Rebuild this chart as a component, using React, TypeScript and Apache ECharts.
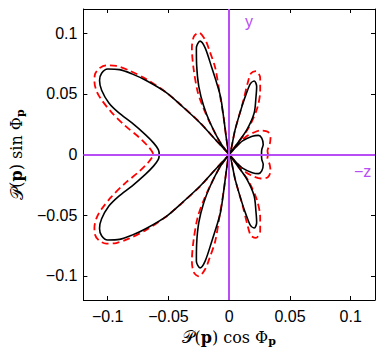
import React, { useEffect, useRef } from "react";
import * as echarts from "echarts";

// Tick values on both axes
const tickValues = [-0.1, -0.05, 0, 0.05, 0.1];
const axisMin = -0.12;
const axisMax = 0.12;

// Black solid curve, upper half (angle 0 -> 180), [x, y]
const blackUpper: number[][] = [
  [0.0266, 0.0], [0.0268, 0.004], [0.028, 0.0082], [0.0268, 0.0135], [0.024, 0.0158],
  [0.019, 0.015], [0.011, 0.0112], [0.005, 0.0056], [0, 0],
  [0.007, 0.0095], [0.0146, 0.0205], [0.0205, 0.034], [0.022, 0.0468], [0.0226, 0.056],
  [0.0207, 0.0606], [0.0175, 0.0585], [0.014, 0.05], [0.0105, 0.0397], [0.0049, 0.0205], [0, 0],
  [-0.002, 0.011], [-0.0045, 0.03], [-0.007, 0.047], [-0.01, 0.058], [-0.0143, 0.0715],
  [-0.0198, 0.0879], [-0.024, 0.0935], [-0.027, 0.088], [-0.0268, 0.074], [-0.025, 0.056],
  [-0.021, 0.04], [-0.0156, 0.026], [-0.0074, 0.01], [0, 0],
  [-0.012, 0.013], [-0.0239, 0.026], [-0.039, 0.04], [-0.052, 0.0512], [-0.0683, 0.061],
  [-0.08, 0.0665], [-0.0903, 0.07], [-0.1, 0.0705], [-0.105, 0.067], [-0.1067, 0.061],
  [-0.105, 0.053], [-0.099, 0.0425], [-0.091, 0.0345], [-0.08, 0.026], [-0.069, 0.0164],
  [-0.0623, 0.0096], [-0.0583, 0.0041], [-0.0576, 0.0],
];

// Black solid curve, lower half (angle 180 -> 360), [x, y]
const blackLower: number[][] = [
  [-0.0583, -0.0041], [-0.0623, -0.0096], [-0.069, -0.0164], [-0.08, -0.026], [-0.091, -0.0345],
  [-0.099, -0.0425], [-0.105, -0.053], [-0.1067, -0.061], [-0.105, -0.067], [-0.1, -0.0705],
  [-0.0903, -0.07], [-0.08, -0.0665], [-0.0683, -0.061], [-0.052, -0.0512], [-0.039, -0.04],
  [-0.0239, -0.026], [-0.012, -0.013], [0, 0],
  [-0.0074, -0.01], [-0.0156, -0.026], [-0.021, -0.04], [-0.025, -0.056], [-0.0268, -0.074],
  [-0.027, -0.088], [-0.024, -0.0935], [-0.0198, -0.0879], [-0.0143, -0.0715], [-0.01, -0.058],
  [-0.007, -0.047], [-0.0045, -0.03], [-0.002, -0.011], [0, 0],
  [0.0049, -0.0205], [0.0105, -0.0397], [0.014, -0.05], [0.0175, -0.0585], [0.0207, -0.0606],
  [0.0226, -0.056], [0.022, -0.0468], [0.0205, -0.034], [0.0146, -0.0205], [0.007, -0.0095], [0, 0],
  [0.005, -0.0056], [0.011, -0.0112], [0.019, -0.015], [0.024, -0.0158], [0.0268, -0.0135],
  [0.028, -0.0082], [0.0268, -0.004], [0.0266, 0.0],
];

// Red dashed curve, upper half
const redUpper: number[][] = [
  [0.032, 0.0], [0.0315, 0.003], [0.0333, 0.0082], [0.034, 0.0137], [0.0318, 0.0187],
  [0.026, 0.0198], [0.02, 0.018], [0.014, 0.0148], [0.007, 0.0078], [0, 0],
  [0.0075, 0.01], [0.016, 0.022], [0.023, 0.038], [0.0255, 0.0523], [0.0255, 0.0633],
  [0.022, 0.0688], [0.018, 0.067], [0.0155, 0.06], [0.011, 0.042], [0.005, 0.021], [0, 0],
  [-0.002, 0.011], [-0.0045, 0.03], [-0.0078, 0.05], [-0.0115, 0.0715], [-0.016, 0.085],
  [-0.0198, 0.0947], [-0.025, 0.1005], [-0.029, 0.0975], [-0.0307, 0.0879], [-0.0294, 0.0715],
  [-0.026, 0.052], [-0.0215, 0.039], [-0.016, 0.0265], [-0.0074, 0.01], [0, 0],
  [-0.012, 0.013], [-0.0239, 0.0262], [-0.039, 0.0402], [-0.0523, 0.0515], [-0.068, 0.062],
  [-0.0821, 0.0692], [-0.093, 0.073], [-0.1012, 0.0735], [-0.107, 0.071], [-0.1105, 0.066],
  [-0.1109, 0.06], [-0.109, 0.052], [-0.105, 0.045], [-0.097, 0.035], [-0.086, 0.024],
  [-0.074, 0.014], [-0.067, 0.007], [-0.0635, 0.0025], [-0.0625, 0.0],
];

// Red dashed curve, lower half
const redLower: number[][] = [
  [-0.0635, -0.0025], [-0.067, -0.007], [-0.074, -0.014], [-0.086, -0.024], [-0.097, -0.035],
  [-0.105, -0.045], [-0.109, -0.052], [-0.1109, -0.06], [-0.1105, -0.066], [-0.107, -0.071],
  [-0.1012, -0.0735], [-0.093, -0.073], [-0.0821, -0.0692], [-0.068, -0.062], [-0.0523, -0.0515],
  [-0.039, -0.0402], [-0.0239, -0.0262], [-0.012, -0.013], [0, 0],
  [-0.0074, -0.01], [-0.016, -0.0265], [-0.0215, -0.039], [-0.026, -0.052], [-0.0294, -0.0715],
  [-0.0307, -0.0879], [-0.029, -0.0975], [-0.025, -0.1005], [-0.0198, -0.0947], [-0.016, -0.085],
  [-0.0115, -0.0715], [-0.0078, -0.05], [-0.0045, -0.03], [-0.002, -0.011], [0, 0],
  [0.005, -0.021], [0.011, -0.042], [0.0155, -0.06], [0.018, -0.067], [0.022, -0.0688],
  [0.0255, -0.0633], [0.0255, -0.0523], [0.023, -0.038], [0.016, -0.022], [0.0075, -0.01], [0, 0],
  [0.007, -0.0078], [0.014, -0.0148], [0.02, -0.018], [0.026, -0.0198], [0.0318, -0.0187],
  [0.034, -0.0137], [0.0333, -0.0082], [0.0315, -0.003], [0.032, 0.0],
];

const PURPLE = "#b84cf5";

const fmt = (v: number) => (v === 0 ? "0" : String(v).replace("-", "\u2212"));

const nameRich = {
  c: { fontFamily: "DejaVu Serif", fontSize: 17, color: "#000" },
  r: { fontFamily: "DejaVu Serif", fontSize: 16, color: "#000" },
  b: { fontFamily: "DejaVu Serif", fontSize: 16, fontWeight: "bold", color: "#000" },
  s: { fontFamily: "DejaVu Serif", fontSize: 11, fontWeight: "bold", color: "#000", padding: [8, 0, 0, 0] },
};

export default function App() {
  const ref = useRef<HTMLDivElement>(null);
  useEffect(() => {
    if (!ref.current) return;
    const chart = echarts.init(ref.current, null, { renderer: "svg" });
    const baseAxis = {
      type: "value" as const,
      min: axisMin,
      max: axisMax,
      splitLine: { show: false },
      axisLine: { onZero: false, lineStyle: { color: "#000", width: 1 } },
      axisTick: { inside: true, length: 4, customValues: tickValues, lineStyle: { color: "#000" } },
    };
    chart.setOption({
      animation: false,
      backgroundColor: "#fff",
      grid: { left: 83, right: 7, top: 9, bottom: 53 },
      xAxis: [
        {
          ...baseAxis,
          position: "bottom",
          axisLabel: {
            customValues: tickValues,
            formatter: fmt,
            fontFamily: "Liberation Sans",
            fontSize: 16,
            color: "#000",
            margin: 8,
          },
          name: "{c|𝒫}{r|(}{b|p}{r|) cos Φ}{s|p}",
          nameLocation: "middle",
          nameGap: 11,
          nameTextStyle: { rich: nameRich },
        },
        { ...baseAxis, position: "top", axisLabel: { show: false } },
      ],
      yAxis: [
        {
          ...baseAxis,
          position: "left",
          axisLabel: {
            customValues: tickValues,
            formatter: fmt,
            fontFamily: "Liberation Sans",
            fontSize: 16,
            color: "#000",
            margin: 6,
          },
          name: "{c|𝒫}{r|(}{b|p}{r|) sin Φ}{s|p}",
          nameLocation: "middle",
          nameGap: 56,
          nameRotate: 90,
          nameTextStyle: { rich: nameRich },
        },
        { ...baseAxis, position: "right", axisLabel: { show: false } },
      ],
      series: [
        {
          type: "line",
          data: [],
          z: 1,
          markLine: {
            silent: true,
            symbol: "none",
            label: { show: false },
            lineStyle: { color: PURPLE, width: 2, type: "solid" },
            data: [{ xAxis: 0 }, { yAxis: 0 }],
          },
        },
        {
          type: "line",
          data: [...redUpper, ...redLower],
          smooth: 0.3,
          symbol: "none",
          z: 3,
          lineStyle: { color: "#ff0000", width: 1.8, type: [7, 4] },
        },
        {
          type: "line",
          data: [...blackUpper, ...blackLower],
          smooth: 0.3,
          symbol: "none",
          z: 4,
          lineStyle: { color: "#000", width: 1.6 },
        },
      ],
      graphic: [
        { type: "text", left: 245, top: 13, style: { text: "y", fill: PURPLE, fontSize: 16, fontFamily: "Liberation Sans" } },
        { type: "text", left: 354, top: 163, style: { text: "\u2212z", fill: PURPLE, fontSize: 16, fontFamily: "Liberation Sans" } },
      ],
    });
    return () => chart.dispose();
  }, []);
  return <div ref={ref} style={{ position: "fixed", left: 0, top: 0, width: 382, height: 353 }} />;
}
